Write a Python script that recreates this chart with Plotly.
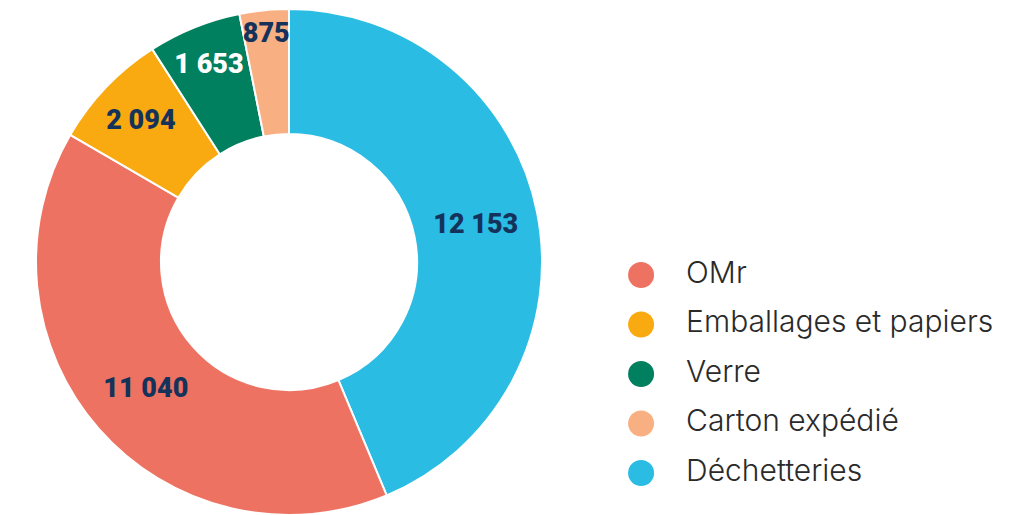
import plotly.graph_objects as go

# Data
pie_labels = ["Déchetteries", "OMr", "Emballages et papiers", "Verre", "Carton expédié"]
pie_values = [12153, 11040, 2094, 1653, 875]
pie_text = ["12 153", "11 040", "2 094", "1 653", "875"]
pie_colors = ["#2BBCE4", "#EE7262", "#F8AA10", "#00805E", "#F8B083"]
pie_text_colors = ["#15335A", "#15335A", "#15335A", "#FFFFFF", "#15335A"]

legend_labels = ["OMr", "Emballages et papiers", "Verre", "Carton expédié", "Déchetteries"]
legend_colors = ["#EE7262", "#F8AA10", "#00805E", "#F8B083", "#2BBCE4"]

W, H = 1033, 515
OFF = 8  # page body margin
cx, cy, r = 289 - OFF, 262 - OFF, 253

fig = go.Figure()
fig.add_trace(go.Pie(
    labels=pie_labels, values=pie_values, text=pie_text,
    textinfo="text", hole=0.506, sort=False, direction="clockwise", rotation=0,
    marker=dict(colors=pie_colors, line=dict(color="white", width=2)),
    textposition="inside", insidetextorientation="horizontal",
    textfont=dict(family="Roboto, sans-serif", size=27, color=pie_text_colors, weight=900),
    domain=dict(x=[(cx - r) / W, (cx + r) / W], y=[1 - (cy + r) / H, 1 - (cy - r) / H]),
    showlegend=False, hoverinfo="label+value",
))

# Custom legend (circles)
fig.add_trace(go.Scatter(
    x=[0] * len(legend_labels), y=legend_labels, mode="markers",
    marker=dict(size=26, color=legend_colors), cliponaxis=False,
    showlegend=False, hoverinfo="skip",
))
fig.add_trace(go.Scatter(
    x=[1.07] * len(legend_labels), y=legend_labels, mode="text",
    text=legend_labels, textposition="middle right",
    textfont=dict(family="Inter, Noto Sans, sans-serif", size=30, color="#2A2A2A", weight=300),
    cliponaxis=False, showlegend=False, hoverinfo="skip",
))

fig.update_layout(
    width=W, height=H, margin=dict(l=0, r=0, t=0, b=0),
    paper_bgcolor="white", plot_bgcolor="white",
    uniformtext=dict(minsize=27, mode="show"),
    xaxis=dict(domain=[0.5721, 1.0], range=[-1, 9.5], visible=False, fixedrange=True),
    yaxis=dict(domain=[1 - 489.75 / H, 1 - 242.25 / H], type="category",
               categoryorder="array", categoryarray=legend_labels,
               range=[4.5, -0.5], visible=False, fixedrange=True),
)

fig.write_html("out.html")
